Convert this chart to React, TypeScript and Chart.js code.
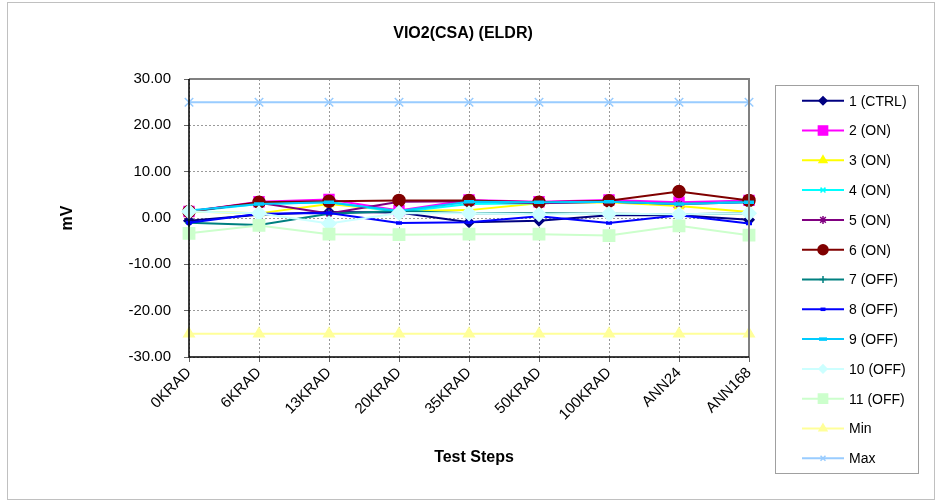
import React, { useEffect, useRef } from "react";
import { Chart, registerables } from "chart.js";
import { drawPoint } from "chart.js/helpers";

Chart.register(...registerables);

const categories = ["0KRAD", "6KRAD", "13KRAD", "20KRAD", "35KRAD", "50KRAD", "100KRAD", "ANN24", "ANN168"];
const seriesNames = ["1 (CTRL)", "2 (ON)", "3 (ON)", "4 (ON)", "5 (ON)", "6 (ON)", "7 (OFF)", "8 (OFF)", "9 (OFF)", "10 (OFF)", "11 (OFF)", "Min", "Max"];
const s1 = [-0.6, 0.7, 1.3, 1.2, -0.9, -0.6, 0.6, 0.6, -0.4];
const s2 = [1.4, 3.5, 4.0, 1.6, 3.9, 3.5, 3.9, 3.4, 3.8];
const s3 = [1.4, 1.0, 3.0, 1.5, 1.7, 3.2, 3.4, 2.6, 1.3];
const s4 = [1.4, 3.0, 3.4, 1.3, 3.0, 3.2, 3.5, 3.0, 3.5];
const s5 = [1.4, 3.3, 1.0, 3.5, 3.6, 3.2, 3.5, 3.0, 3.4];
const s6 = [1.4, 3.4, 3.6, 3.8, 3.8, 3.4, 3.7, 5.7, 3.8];
const s7 = [-1.0, -1.5, 0.9, 1.5, 1.0, 1.0, 0.9, 0.8, 1.0];
const s8 = [-1.0, 0.9, 1.1, -1.1, -0.9, 0.4, -1.1, 0.6, -1.2];
const s9 = [1.6, 3.0, 3.4, 1.5, 3.5, 3.4, 3.5, 3.0, 3.4];
const s10 = [1.4, 1.0, -1.2, 1.1, 1.0, 0.8, 0.9, 0.8, 1.0];
const s11 = [-3.3, -1.6, -3.5, -3.6, -3.5, -3.5, -3.8, -1.7, -3.7];
const minLimit = [-25, -25, -25, -25, -25, -25, -25, -25, -25];
const maxLimit = [25, 25, 25, 25, 25, 25, 25, 25, 25];
const seriesValues = [s1, s2, s3, s4, s5, s6, s7, s8, s9, s10, s11, minLimit, maxLimit];

const colors = ["#000080", "#FF00FF", "#FFFF00", "#00FFFF", "#800080", "#800000", "#008080", "#0000FF", "#00CCFF", "#CCFFFF", "#CCFFCC", "#FFFF99", "#99CCFF"];
const pointStyles = ["rectRot", "rect", "triangle", "crossRot", "star", "circle", "cross", "line", "line", "rectRot", "rect", "triangle", "crossRot"];
const pointRadii = [5, 7, 5, 4, 4, 6, 4, 3, 5, 7, 8, 6, 6];
const legendRadii = [4, 6.5, 4.5, 3.5, 4, 5, 3.5, 2.5, 4, 4, 6.5, 4.5, 3.5];

const FONT = '"Liberation Sans", Arial, sans-serif';

const decorPlugin = {
  id: "decor",
  beforeDraw(chart: any) {
    const ctx = chart.ctx;
    ctx.save();
    ctx.fillStyle = "#ffffff";
    ctx.fillRect(0, 0, chart.width, chart.height);
    ctx.strokeStyle = "#c0c0c0";
    ctx.lineWidth = 1;
    ctx.strokeRect(7.5, 2.5, 927, 497);
    ctx.restore();
  },
  afterDraw(chart: any) {
    const ctx = chart.ctx;
    const a = chart.chartArea;
    ctx.save();
    ctx.strokeStyle = "#808080";
    ctx.lineWidth = 2;
    ctx.beginPath();
    ctx.moveTo(a.left, a.top);
    ctx.lineTo(a.right, a.top);
    ctx.lineTo(a.right, a.bottom);
    ctx.stroke();
    ctx.strokeStyle = "#000000";
    ctx.lineWidth = 1.5;
    ctx.beginPath();
    ctx.moveTo(a.left, a.top);
    ctx.lineTo(a.left, a.bottom);
    ctx.lineTo(a.right, a.bottom);
    ctx.stroke();

    ctx.fillStyle = "#000000";
    ctx.textAlign = "center";
    ctx.textBaseline = "middle";
    ctx.font = "bold 16px " + FONT;
    ctx.fillText("VIO2(CSA) (ELDR)", 463, 34);
    ctx.fillText("Test Steps", 474, 458);
    ctx.save();
    ctx.translate(68, 218);
    ctx.rotate(-Math.PI / 2);
    ctx.fillText("mV", 0, 0);
    ctx.restore();

    const bx = 775, by = 85, bw = 143, bh = 388;
    ctx.strokeStyle = "#a0a0a0";
    ctx.lineWidth = 1;
    ctx.strokeRect(bx + 0.5, by + 0.5, bw, bh);
    ctx.font = "14px " + FONT;
    ctx.textAlign = "left";
    ctx.textBaseline = "middle";
    for (let i = 0; i < seriesNames.length; i++) {
      const y = 100.7 + i * 29.8;
      ctx.strokeStyle = colors[i];
      ctx.lineWidth = 2;
      ctx.beginPath();
      ctx.moveTo(802, y);
      ctx.lineTo(844, y);
      ctx.stroke();
      ctx.fillStyle = colors[i];
      ctx.strokeStyle = colors[i];
      ctx.lineWidth = i === 7 || i === 8 ? 3.5 : 1.5;
      drawPoint(ctx, { pointStyle: pointStyles[i], radius: legendRadii[i], rotation: 0, borderWidth: ctx.lineWidth }, 823, y);
      ctx.fillStyle = "#000000";
      ctx.fillText(seriesNames[i], 849, y + 1);
    }
    ctx.restore();
  },
};

export default function App() {
  const ref = useRef<HTMLCanvasElement | null>(null);
  useEffect(() => {
    document.body.style.margin = "0";
    const n = seriesNames.length;
    const chart = new Chart(ref.current as HTMLCanvasElement, {
      type: "line",
      data: {
        labels: categories,
        datasets: seriesValues.map((vals, i) => ({
          label: seriesNames[i],
          data: vals,
          borderColor: colors[i],
          backgroundColor: colors[i],
          borderWidth: 2,
          pointStyle: pointStyles[i] as any,
          pointRadius: pointRadii[i],
          pointBorderWidth: i === 7 || i === 8 ? 3.5 : 1.5,
          pointBorderColor: colors[i],
          pointBackgroundColor: colors[i],
          fill: false,
          tension: 0,
          order: n - i,
        })),
      },
      options: {
        responsive: false,
        animation: false,
        events: [],
        layout: { padding: { top: 79, right: 187, left: 0, bottom: 0 } },
        plugins: {
          legend: { display: false },
          title: { display: false },
          tooltip: { enabled: false },
        },
        scales: {
          x: {
            offset: false,
            afterFit: (s: any) => { s.height = 144; },
            grid: { color: "#9a9a9a", lineWidth: 1, tickLength: 5, drawTicks: true, tickColor: "#666" },
            border: { display: false, dash: [2, 2] },
            ticks: {
              color: "#000",
              font: { family: FONT, size: 15 },
              minRotation: 45,
              maxRotation: 45,
              padding: 2,
              autoSkip: false,
            },
          },
          y: {
            min: -30,
            max: 30,
            afterFit: (s: any) => { s.width = 189; },
            grid: { color: "#9a9a9a", lineWidth: 1, tickLength: 5, drawTicks: true, tickColor: "#666" },
            border: { display: false, dash: [2, 2] },
            ticks: {
              stepSize: 10,
              color: "#000",
              font: { family: FONT, size: 15 },
              padding: 13,
              callback: (v: any) => Number(v).toFixed(2),
            },
          },
        },
      },
      plugins: [decorPlugin],
    });
    return () => chart.destroy();
  }, []);
  return (
    <div style={{ width: 936, height: 501 }}>
      <canvas ref={ref} width={936} height={501} style={{ display: "block" }} />
    </div>
  );
}
